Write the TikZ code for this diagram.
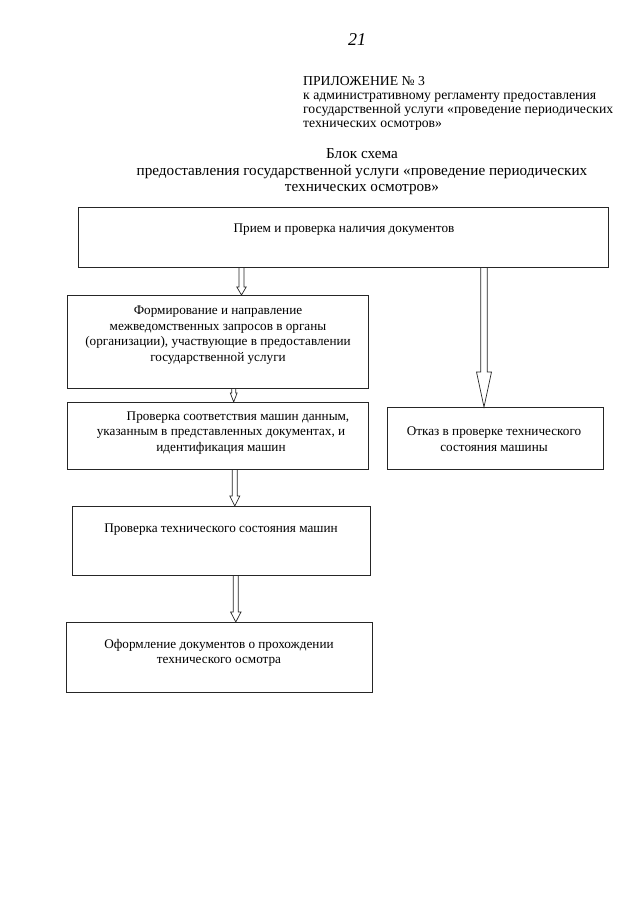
\documentclass[tikz,border=0pt]{standalone}
\usepackage{fontspec}
\setmainfont{Liberation Serif}
\usetikzlibrary{calc}
\newcommand\hollowarr[6]{%
  \draw[arr] let \p1=(#1 |- #2.south), \p2=(#1 |- #3.north) in
    (\x1-#4pt,\y1) -- (\x1-#4pt,\y2+#6pt) -- (\x1-#5pt,\y2+#6pt) -- (\x1,\y2)
    -- (\x1+#5pt,\y2+#6pt) -- (\x1+#4pt,\y2+#6pt) -- (\x1+#4pt,\y1);}
\begin{document}
\begin{tikzpicture}[x=1pt,y=-1pt,
  box/.style={draw=black!85, line width=1pt, inner sep=0pt, outer sep=0pt, anchor=north west},
  lbl/.style={inner sep=0pt, align=center, font=\fontsize{13.2}{15.4}\selectfont},
  arr/.style={draw=black!85, line width=0.7pt, line join=miter}]
\useasboundingbox[fill=white] (0,0) rectangle (640,905);

% page number (handwritten)
\node[inner sep=0pt, font=\fontsize{18}{18}\selectfont\itshape] (pg) at (357,40) {21};

% header
\node[anchor=west, align=left, inner sep=0pt, font=\fontsize{13.7}{14}\selectfont] (hdr) at (303,103)
  {ПРИЛОЖЕНИЕ № 3\\
   к административному регламенту предоставления\\
   государственной услуги «проведение периодических\\
   технических осмотров»};

% title
\node[align=center, inner sep=0pt, font=\fontsize{15.2}{16.6}\selectfont] (ttl) at (362,172)
  {Блок схема\\
   предоставления государственной услуги «проведение периодических\\
   технических осмотров»};

% boxes
\node[box, minimum width=530pt, minimum height=60pt] (b1) at (78,207) {};
\node[box, minimum width=301pt, minimum height=93pt] (b2) at (67,295) {};
\node[box, minimum width=301pt, minimum height=67pt] (b3) at (67,402) {};
\node[box, minimum width=216pt, minimum height=62pt] (b4) at (387,407) {};
\node[box, minimum width=298pt, minimum height=69pt] (b5) at (72,506) {};
\node[box, minimum width=306pt, minimum height=70pt] (b6) at (66,622) {};

% texts
\node[lbl] (t1) at (344,230) {Прием и проверка наличия документов};
\node[lbl] (t2) at (218,335) {Формирование и направление\\
  межведомственных запросов в органы\\
  (организации), участвующие в предоставлении\\
  государственной услуги};
\node[lbl] (t3) at (221,433) {\hspace*{34pt}Проверка соответствия машин данным,\\
  указанным в представленных документах, и\\
  идентификация машин};
\node[lbl] (t4) at (494,439) {Отказ в проверке технического\\
  состояния машины};
\node[lbl] (t5) at (221,530) {Проверка технического состояния машин};
\node[lbl] (t6) at (219,653) {Оформление документов о прохождении\\
  технического осмотра};

% arrow axes
\coordinate (x1) at (241.5,0);
\coordinate (x2) at (484,0);
\coordinate (x3) at (233.7,0);
\coordinate (x4) at (234.8,0);
\coordinate (x5) at (235.8,0);

% hollow arrows
\hollowarr{x1}{b1}{b2}{2.5}{4.7}{8}
\hollowarr{x2}{b1}{b4}{3.3}{7.5}{35}
\hollowarr{x3}{b2}{b3}{2}{3.4}{9}
\hollowarr{x4}{b3}{b5}{2.5}{5}{10}
\hollowarr{x5}{b5}{b6}{2.5}{5.2}{10}
\end{tikzpicture}
\end{document}
